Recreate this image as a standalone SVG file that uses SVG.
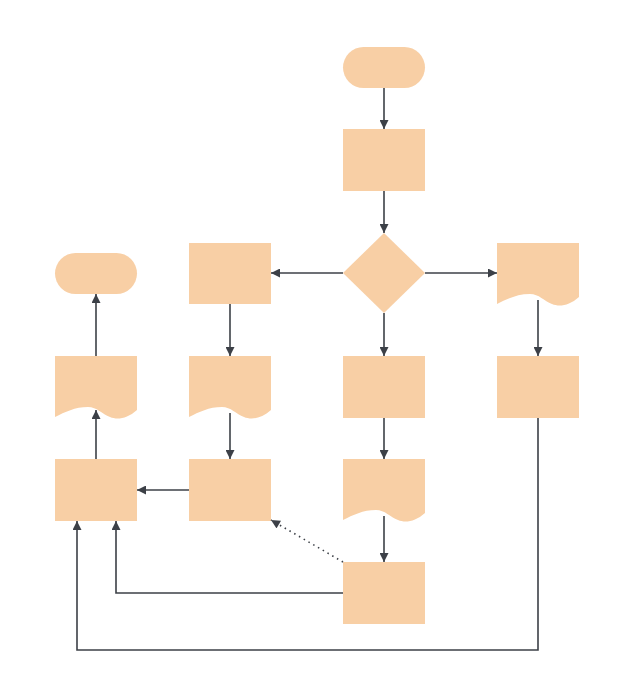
<svg xmlns="http://www.w3.org/2000/svg" xmlns:xlink="http://www.w3.org/1999/xlink" width="631" height="700" viewBox="0 0 631 700">
<style>
.shape{fill:#F8CFA5;stroke:none}
.edge{fill:none;stroke:#3c4047;stroke-width:1.6}
.dot{stroke-dasharray:1.5 4;stroke-width:1.6}
</style>
<defs>
<marker id="arr" viewBox="0 0 10 10" refX="10" refY="5" markerWidth="10" markerHeight="9" markerUnits="userSpaceOnUse" orient="auto">
<path d="M0,0 L10,5 L0,10 z" fill="#3c4047"/>
</marker>
<path id="doc" d="M0,0 H82 V54 C72,63 62,64 55,61 C47,58 42,51 33,51 C20,51 10,56 0,61 Z"/>
</defs>
<rect width="631" height="700" fill="#ffffff"/>
<g id="start"><rect class="shape" x="343" y="47" width="82" height="41" rx="20.5"/></g>
<g id="process1"><rect class="shape" x="343" y="129" width="82" height="62"/></g>
<g id="decision"><polygon class="shape" points="384,233 425,273 384,313 343,273"/></g>
<g id="process2"><rect class="shape" x="189" y="243" width="82" height="61"/></g>
<g id="document1"><use class="shape" xlink:href="#doc" href="#doc" x="497" y="243"/></g>
<g id="end"><rect class="shape" x="55" y="253" width="82" height="41" rx="20.5"/></g>
<g id="document2"><use class="shape" xlink:href="#doc" href="#doc" x="55" y="356"/></g>
<g id="document3"><use class="shape" xlink:href="#doc" href="#doc" x="189" y="356"/></g>
<g id="process3"><rect class="shape" x="343" y="356" width="82" height="62"/></g>
<g id="process4"><rect class="shape" x="497" y="356" width="82" height="62"/></g>
<g id="process5"><rect class="shape" x="55" y="459" width="82" height="62"/></g>
<g id="process6"><rect class="shape" x="189" y="459" width="82" height="62"/></g>
<g id="document4"><use class="shape" xlink:href="#doc" href="#doc" x="343" y="459"/></g>
<g id="process7"><rect class="shape" x="343" y="562" width="82" height="62"/></g>
<g id="connectors">
<path class="edge" d="M384,88 V129" marker-end="url(#arr)"/>
<path class="edge" d="M384,191 V233" marker-end="url(#arr)"/>
<path class="edge" d="M343,273 H271" marker-end="url(#arr)"/>
<path class="edge" d="M425,273 H497" marker-end="url(#arr)"/>
<path class="edge" d="M384,313 V356" marker-end="url(#arr)"/>
<path class="edge" d="M230,304 V356" marker-end="url(#arr)"/>
<path class="edge" d="M230,413 V459" marker-end="url(#arr)"/>
<path class="edge" d="M538,300 V356" marker-end="url(#arr)"/>
<path class="edge" d="M384,418 V459" marker-end="url(#arr)"/>
<path class="edge" d="M384,516 V562" marker-end="url(#arr)"/>
<path class="edge" d="M189,490 H137" marker-end="url(#arr)"/>
<path class="edge" d="M96,459 V410" marker-end="url(#arr)"/>
<path class="edge" d="M96,356 V294" marker-end="url(#arr)"/>
<path class="edge" d="M343,593 H116 V521" marker-end="url(#arr)"/>
<path class="edge" d="M538,418 V650 H77 V521" marker-end="url(#arr)"/>
<path class="edge dot" d="M343,562 L271,520" marker-end="url(#arr)"/>
</g>
</svg>
